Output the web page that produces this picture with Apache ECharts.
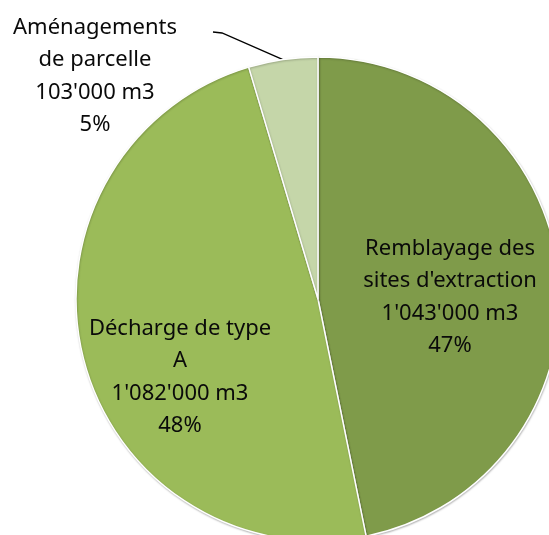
<!DOCTYPE html>
<html>
<head>
<meta charset="utf-8">
<script src="https://cdn.jsdelivr.net/npm/echarts@6/dist/echarts.min.js"></script>
<style>
html,body{margin:0;padding:0;background:#fff;}
#chart{width:549px;height:535px;}
</style>
</head>
<body>
<div id="chart"></div>
<script>
const categories = ["Remblayage des\nsites d'extraction", "Décharge de type\nA", "Aménagements\nde parcelle"];
const volumes = [1043000, 1082000, 103000];
const colors = ['#7F9B4A', '#9BBB59', '#C5D6A9'];

function fmt(v) {
  return String(v).replace(/\B(?=(\d{3})+(?!\d))/g, "'");
}

const chart = echarts.init(document.getElementById('chart'));
const labelFont = { fontFamily: 'Noto Sans', fontSize: 22, lineHeight: 32.5, color: '#0a0a0a' };

chart.setOption({
  animation: false,
  series: [{
    type: 'pie',
    center: [318, 299],
    radius: 242,
    startAngle: 90,
    clockwise: true,
    percentPrecision: 0,
    data: categories.map((c, i) => ({
      name: c,
      value: volumes[i],
      itemStyle: { color: colors[i] },
      label: i === 2 ? { position: 'outside' } : { position: 'inside' },
      labelLine: { show: i === 2 }
    })),
    itemStyle: {
      borderColor: '#fff',
      borderWidth: 1.5,
      shadowBlur: 2,
      shadowColor: 'rgba(0,0,0,0.25)',
      shadowOffsetX: 0.5,
      shadowOffsetY: 1
    },
    label: Object.assign({
      show: true,
      align: 'center',
      formatter: p => p.name + '\n' + fmt(p.value) + ' m3\n' + p.percent + '%'
    }, labelFont),
    labelLine: {
      show: true,
      length: 20,
      length2: 9,
      lineStyle: { color: '#000', width: 1.3 }
    },
    labelLayout: function (params) {
      if (params.dataIndex === 0) return { x: 450, y: 297, align: 'center', verticalAlign: 'middle' };
      if (params.dataIndex === 1) return { x: 180, y: 377, align: 'center', verticalAlign: 'middle' };
      const lx = 95, ly = 76;
      const out = { x: lx, y: ly, align: 'center', verticalAlign: 'middle' };
      const pts = params.labelLinePoints;
      if (pts && pts.length) {
        out.labelLinePoints = [pts[0], [lx + 127, ly - 43], [lx + 118, ly - 44]];
      }
      return out;
    }
  }]
});
</script>
</body>
</html>
